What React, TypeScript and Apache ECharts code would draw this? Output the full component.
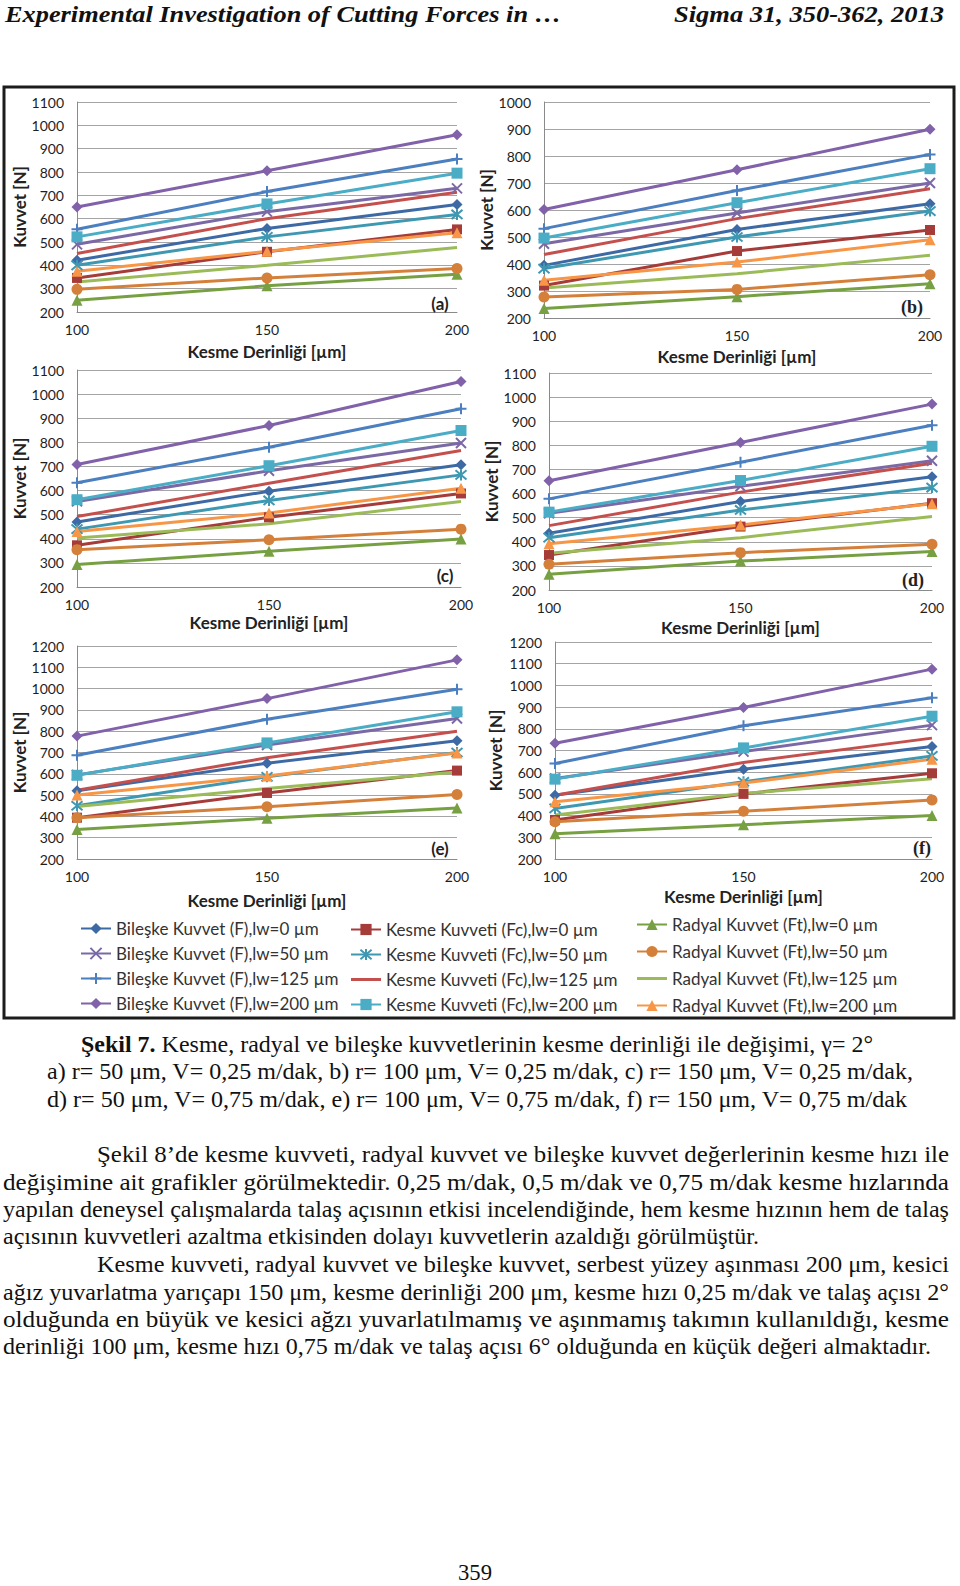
import React, { useEffect, useLayoutEffect, useRef } from "react";
import * as echarts from "echarts";

// ---------- data ----------
const DEPTHS = [100, 150, 200];

const SERIES_NAMES = [
  "Bileşke Kuvvet (F),lw=0 µm",
  "Bileşke Kuvvet (F),lw=50 µm",
  "Bileşke Kuvvet (F),lw=125 µm",
  "Bileşke Kuvvet (F),lw=200 µm",
  "Kesme Kuvveti (Fc),lw=0 µm",
  "Kesme Kuvveti (Fc),lw=50 µm",
  "Kesme Kuvveti (Fc),lw=125 µm",
  "Kesme Kuvveti (Fc),lw=200 µm",
  "Radyal Kuvvet (Ft),lw=0 µm",
  "Radyal Kuvvet (Ft),lw=50 µm",
  "Radyal Kuvvet (Ft),lw=125 µm",
  "Radyal Kuvvet (Ft),lw=200 µm",
];

// rows follow SERIES_NAMES, columns follow DEPTHS
const PANEL_A = [
  [422, 558, 661], [490, 630, 730], [555, 716, 856], [650, 805, 960],
  [346, 458, 554], [400, 522, 618], [451, 600, 713], [522, 663, 795],
  [250, 312, 362], [297, 346, 386], [329, 400, 476], [375, 460, 540],
];
const PANEL_B = [
  [395, 528, 623], [475, 589, 700], [531, 672, 806], [602, 749, 899],
  [320, 448, 526], [383, 500, 596], [435, 568, 679], [496, 627, 753],
  [235, 279, 327], [278, 306, 360], [311, 364, 432], [340, 407, 490],
];
const PANEL_C = [
  [470, 597, 707], [555, 682, 797], [632, 780, 939], [708, 870, 1052],
  [373, 489, 588], [440, 559, 665], [492, 630, 766], [562, 703, 849],
  [293, 348, 399], [355, 396, 440], [403, 462, 555], [430, 507, 610],
];
const PANEL_D = [
  [435, 567, 670], [518, 630, 736], [578, 730, 883], [653, 812, 971],
  [345, 463, 560], [417, 532, 625], [467, 606, 726], [523, 654, 796],
  [265, 320, 360], [307, 355, 390], [352, 417, 505], [392, 470, 558],
];
const PANEL_E = [
  [520, 650, 755], [595, 735, 860], [687, 856, 997], [777, 953, 1135],
  [394, 510, 615], [450, 586, 700], [523, 675, 800], [593, 745, 891],
  [338, 391, 440], [394, 445, 503], [447, 531, 609], [500, 590, 698],
];
const PANEL_F = [
  [494, 614, 718], [571, 695, 817], [640, 814, 943], [733, 898, 1075],
  [380, 500, 595], [433, 556, 675], [494, 645, 757], [568, 712, 858],
  [316, 358, 400], [372, 420, 472], [403, 502, 570], [464, 550, 660],
];
const PANELS = [PANEL_A, PANEL_B, PANEL_C, PANEL_D, PANEL_E, PANEL_F];
const PANEL_TAGS = ["(a)", "(b)", "(c)", "(d)", "(e)", "(f)"];
const Y_MIN = 200;
const Y_MAX = [1100, 1000, 1100, 1100, 1200, 1200];
const Y_STEP = 100;
const X_NAME = "Kesme Derinliği [µm]";
const Y_NAME = "Kuvvet [N]";

// ---------- styles / layout ----------
const X_PATH = "path://M0,0L10,10M10,0L0,10";
const PLUS_PATH = "path://M5,0L5,10M0,5L10,5";
const STAR_PATH = "path://M0,0L10,10M10,0L0,10M5,-1L5,11";
const LINE_ICON = "path://M0,0L30,0L30,3L0,3Z";

const SERIES_STYLE = [
  { color: "#3D6AA5", symbol: "diamond", size: 11, stroke: false },
  { color: "#7B69A6", symbol: X_PATH, size: 10, stroke: true },
  { color: "#4B7FC0", symbol: PLUS_PATH, size: 11, stroke: true },
  { color: "#8161A9", symbol: "diamond", size: 11, stroke: false },
  { color: "#A63C3A", symbol: "rect", size: 10, stroke: false },
  { color: "#3F98B2", symbol: STAR_PATH, size: 11, stroke: true },
  { color: "#C4504D", symbol: "none", size: 0, stroke: false },
  { color: "#4BACC6", symbol: "rect", size: 11, stroke: false },
  { color: "#77A043", symbol: "triangle", size: 11, stroke: false },
  { color: "#D4803A", symbol: "circle", size: 11, stroke: false },
  { color: "#9BBB59", symbol: "none", size: 0, stroke: false },
  { color: "#F79646", symbol: "triangle", size: 11, stroke: false },
];

const GRIDS = [
  { left: 77, top: 102, width: 380, height: 210, yGap: 45, xGap: 31, tag: [440, 303], serifTag: false },
  { left: 544, top: 102, width: 386, height: 216, yGap: 40, xGap: 30, tag: [912, 307], serifTag: true },
  { left: 77, top: 370, width: 384, height: 217, yGap: 42, xGap: 27, tag: [445, 575], serifTag: false },
  { left: 549, top: 373, width: 383, height: 217, yGap: 42, xGap: 29, tag: [913, 580], serifTag: true },
  { left: 77, top: 646, width: 380, height: 213, yGap: 43, xGap: 33, tag: [440, 848], serifTag: false },
  { left: 555, top: 642, width: 377, height: 217, yGap: 51, xGap: 29, tag: [922, 848], serifTag: true },
];

const SANS = "Lato, 'Open Sans', sans-serif";
const SERIF = "'Liberation Serif', 'Times New Roman', serif";

function legendData(names: string[], offset: number) {
  return names.map((n, i) =>
    SERIES_STYLE[offset + i].symbol === "none" ? { name: n, icon: LINE_ICON } : { name: n }
  );
}

function buildOption() {
  const grid = GRIDS.map((g) => ({ left: g.left, top: g.top, width: g.width, height: g.height }));
  const xAxis = GRIDS.map((g, i) => ({
    type: "value",
    gridIndex: i,
    min: DEPTHS[0],
    max: DEPTHS[DEPTHS.length - 1],
    interval: 50,
    name: X_NAME,
    nameLocation: "middle",
    nameGap: g.xGap,
    nameTextStyle: { fontFamily: SANS, fontWeight: "bold", fontSize: 17, color: "#222" },
    axisLine: { show: true, lineStyle: { color: "#8a8a8a", width: 1 } },
    axisTick: { show: false },
    axisLabel: { margin: 10, fontFamily: SANS, fontSize: 14, color: "#1e1e1e", formatter: (v: number) => String(v) },
    splitLine: { show: false },
  }));
  const yAxis = GRIDS.map((g, i) => ({
    type: "value",
    gridIndex: i,
    min: Y_MIN,
    max: Y_MAX[i],
    interval: Y_STEP,
    name: Y_NAME,
    nameLocation: "middle",
    nameGap: g.yGap,
    nameTextStyle: { fontFamily: SANS, fontWeight: "bold", fontSize: 17, color: "#222" },
    axisLine: { show: true, lineStyle: { color: "#8a8a8a", width: 1 } },
    axisTick: { show: false },
    axisLabel: { margin: 13, fontFamily: SANS, fontSize: 14, color: "#1e1e1e", formatter: (v: number) => String(v) },
    splitLine: { show: true, lineStyle: { color: "#a4a4a4", width: 1 } },
  }));
  const series: any[] = [];
  PANELS.forEach((panel, p) => {
    panel.forEach((vals, s) => {
      const st = SERIES_STYLE[s];
      series.push({
        type: "line",
        name: SERIES_NAMES[s],
        xAxisIndex: p,
        yAxisIndex: p,
        data: DEPTHS.map((d, k) => [d, vals[k]]),
        symbol: st.symbol,
        symbolSize: st.size,
        showSymbol: st.symbol !== "none",
        lineStyle: { color: st.color, width: 3 },
        itemStyle: st.stroke
          ? { color: st.color, borderColor: st.color, borderWidth: 2 }
          : { color: st.color, borderColor: st.color, borderWidth: 0 },
        silent: true,
        z: 2,
      });
    });
  });
  const legendCommon = {
    orient: "vertical",
    itemWidth: 30,
    itemHeight: 14,
    padding: 0,
    selectedMode: false,
    textStyle: { fontFamily: SANS, fontSize: 17, color: "#333" },
  };
  const legend = [
    { ...legendCommon, data: legendData(SERIES_NAMES.slice(0, 4), 0), left: 80, top: 920, itemGap: 8 },
    { ...legendCommon, data: legendData(SERIES_NAMES.slice(4, 8), 4), left: 350, top: 921, itemGap: 8 },
    { ...legendCommon, data: legendData(SERIES_NAMES.slice(8, 12), 8), left: 636, top: 916, itemGap: 10 },
  ];
  const graphic: any[] = [
    {
      type: "rect",
      shape: { x: 4, y: 87, width: 950, height: 931 },
      style: { fill: "none", stroke: "#1c1c1c", lineWidth: 3 },
      z: 10,
    },
    ...GRIDS.map((g, i) => ({
      type: "text",
      x: g.tag[0],
      y: g.tag[1],
      style: {
        text: PANEL_TAGS[i],
        fontFamily: g.serifTag ? SERIF : SANS,
        fontWeight: "bold",
        fontSize: g.serifTag ? 18 : 17,
        fill: "#222",
        textAlign: "center",
        textVerticalAlign: "middle",
      },
      z: 10,
    })),
  ];
  return {
    animation: false,
    backgroundColor: "#ffffff",
    grid,
    xAxis,
    yAxis,
    series,
    legend,
    graphic,
  };
}

function TextLine(props: {
  x: number;
  y: number;
  w: number;
  size?: number;
  bold?: boolean;
  italic?: boolean;
  children: React.ReactNode;
}) {
  const { x, y, w, size = 23, bold, italic, children } = props;
  const ref = useRef<HTMLDivElement>(null);
  useLayoutEffect(() => {
    const el = ref.current;
    if (!el) return;
    const apply = () => {
      el.style.transform = "none";
      const nat = el.getBoundingClientRect().width;
      if (!nat) return;
      el.style.transform = `scaleX(${w / nat})`;
    };
    apply();
    const fr = (document as any).fonts;
    if (fr && fr.ready) fr.ready.then(apply);
  }, [w]);
  const lh = Math.round(size * 1.2);
  return (
    <div
      ref={ref}
      style={{
        position: "absolute",
        left: x,
        top: y - lh / 2,
        whiteSpace: "nowrap",
        fontFamily: SERIF,
        fontSize: size,
        lineHeight: `${lh}px`,
        fontWeight: bold ? "bold" : "normal",
        fontStyle: italic ? "italic" : "normal",
        color: "#111",
        transformOrigin: "0 50%",
      }}
    >
      {children}
    </div>
  );
}

export default function App() {
  const chartRef = useRef<HTMLDivElement>(null);
  useEffect(() => {
    if (!chartRef.current) return;
    const chart = echarts.init(chartRef.current, null, { renderer: "svg" });
    chart.setOption(buildOption() as any);
    return () => chart.dispose();
  }, []);

  return (
    <div style={{ position: "absolute", left: 0, top: 0, width: 960, height: 1586, background: "#fff", overflow: "hidden" }}>
      <div ref={chartRef} style={{ position: "absolute", left: 0, top: 0, width: 960, height: 1030 }} />

      <TextLine x={5} y={14} w={556} size={24} bold italic>
        Experimental Investigation of Cutting Forces in …
      </TextLine>
      <TextLine x={674} y={14} w={270} size={24} bold italic>
        Sigma 31, 350-362, 2013
      </TextLine>

      <TextLine x={81} y={1045} w={792}>
        <b>Şekil 7.</b> Kesme, radyal ve bileşke kuvvetlerinin kesme derinliği ile değişimi, γ= 2°
      </TextLine>
      <TextLine x={47} y={1072} w={866}>
        a) r= 50 μm, V= 0,25 m/dak, b) r= 100 μm, V= 0,25 m/dak, c) r= 150 μm, V= 0,25 m/dak,
      </TextLine>
      <TextLine x={47} y={1100} w={860}>
        d) r= 50 μm, V= 0,75 m/dak, e) r= 100 μm, V= 0,75 m/dak, f) r= 150 μm, V= 0,75 m/dak
      </TextLine>

      <TextLine x={97} y={1155} w={852}>
        Şekil 8’de kesme kuvveti, radyal kuvvet ve bileşke kuvvet değerlerinin kesme hızı ile
      </TextLine>
      <TextLine x={3} y={1183} w={946}>
        değişimine ait grafikler görülmektedir. 0,25 m/dak, 0,5 m/dak ve 0,75 m/dak kesme hızlarında
      </TextLine>
      <TextLine x={3} y={1210} w={946}>
        yapılan deneysel çalışmalarda talaş açısının etkisi incelendiğinde, hem kesme hızının hem de talaş
      </TextLine>
      <TextLine x={3} y={1237} w={756}>
        açısının kuvvetleri azaltma etkisinden dolayı kuvvetlerin azaldığı görülmüştür.
      </TextLine>
      <TextLine x={97} y={1265} w={852}>
        Kesme kuvveti, radyal kuvvet ve bileşke kuvvet, serbest yüzey aşınması 200 μm, kesici
      </TextLine>
      <TextLine x={3} y={1293} w={946}>
        ağız yuvarlatma yarıçapı 150 μm, kesme derinliği 200 μm, kesme hızı 0,25 m/dak ve talaş açısı 2°
      </TextLine>
      <TextLine x={3} y={1320} w={946}>
        olduğunda en büyük ve kesici ağzı yuvarlatılmamış ve aşınmamış takımın kullanıldığı, kesme
      </TextLine>
      <TextLine x={3} y={1347} w={928}>
        derinliği 100 μm, kesme hızı 0,75 m/dak ve talaş açısı 6° olduğunda en küçük değeri almaktadır.
      </TextLine>

      <TextLine x={458} y={1573} w={34}>
        359
      </TextLine>
    </div>
  );
}
